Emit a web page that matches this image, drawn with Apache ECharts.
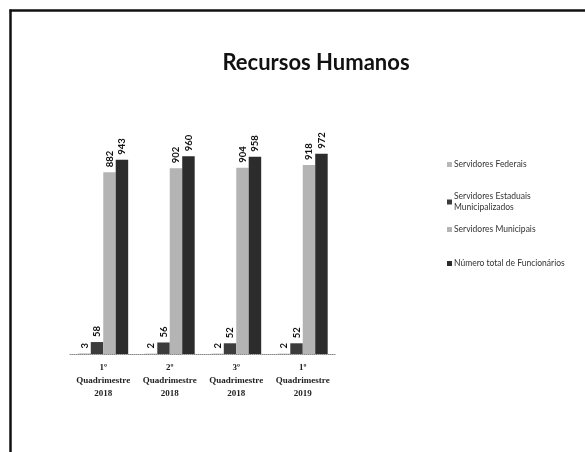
<!DOCTYPE html>
<html><head><meta charset="utf-8">
<script src="https://cdn.jsdelivr.net/npm/echarts@6/dist/echarts.min.js"></script>
<style>html,body{margin:0;padding:0;background:#fff}#c{width:585px;height:452px}</style>
</head><body><div id="c"></div>
<script>
const categories = ['1º\nQuadrimestre\n2018', '2º\nQuadrimestre\n2018', '3º\nQuadrimestre\n2018', '1º\nQuadrimestre\n2019'];
const seriesNames = ['Servidores Federais', 'Servidores Estaduais Municipalizados', 'Servidores Municipais', 'Número total de Funcionários'];
const federais = [3, 2, 2, 2];
const estaduais = [58, 56, 52, 52];
const municipais = [882, 902, 904, 918];
const total = [943, 960, 958, 972];
const seriesValues = [federais, estaduais, municipais, total];
const colors = ['#b8b8b8', '#3c3c3c', '#b4b4b4', '#2c2c2c'];
const legendTops = [159, 191, 224, 258];

const chart = echarts.init(document.getElementById('c'));
const series = seriesValues.map((vals, i) => ({
  name: seriesNames[i],
  type: 'bar',
  data: vals,
  barGap: '0%',
  barCategoryGap: '25%',
  itemStyle: { color: colors[i] },
  label: {
    show: true, position: 'top', rotate: 90, align: 'left', verticalAlign: 'middle',
    distance: 5, fontSize: 9.5, fontWeight: 'bold', color: '#111', fontFamily: 'Lato'
  }
}));
chart.setOption({
  animation: false,
  title: {
    text: 'Recursos Humanos', left: 311, top: 47, textAlign: 'center',
    textStyle: { fontSize: 22, fontWeight: 'bold', fontFamily: 'Lato', color: '#111' }
  },
  legend: seriesNames.map((n, i) => ({
    data: [n], orient: 'vertical', left: 447, top: legendTops[i], padding: 0,
    icon: 'rect', itemWidth: 5, itemHeight: 5, itemGap: 4,
    formatter: name => name === 'Servidores Estaduais Municipalizados' ? 'Servidores Estaduais\nMunicipalizados' : name,
    textStyle: { fontSize: 8.5, fontFamily: 'Lato', color: '#333', lineHeight: 11, padding: [0, 0, 0, -3] }
  })),
  grid: { left: 70, top: 148, width: 266, bottom: 98 },
  xAxis: {
    type: 'category', data: categories,
    axisLine: { lineStyle: { color: '#888', type: 'dotted', width: 1 } },
    axisTick: { show: false },
    axisLabel: { fontSize: 9, fontFamily: 'Liberation Serif', fontWeight: 'bold', color: '#222', lineHeight: 13, margin: 7, interval: 0 }
  },
  yAxis: { type: 'value', min: 0, max: 1000, show: false, splitLine: { show: false } },
  series: series,
  graphic: [
    { type: 'line', shape: { x1: 9.5, y1: 10.5, x2: 585, y2: 10.5 }, style: { stroke: '#111', lineWidth: 2.5 } },
    { type: 'line', shape: { x1: 10.5, y1: 9.5, x2: 10.5, y2: 452 }, style: { stroke: '#111', lineWidth: 2.5 } }
  ]
});
</script></body></html>
